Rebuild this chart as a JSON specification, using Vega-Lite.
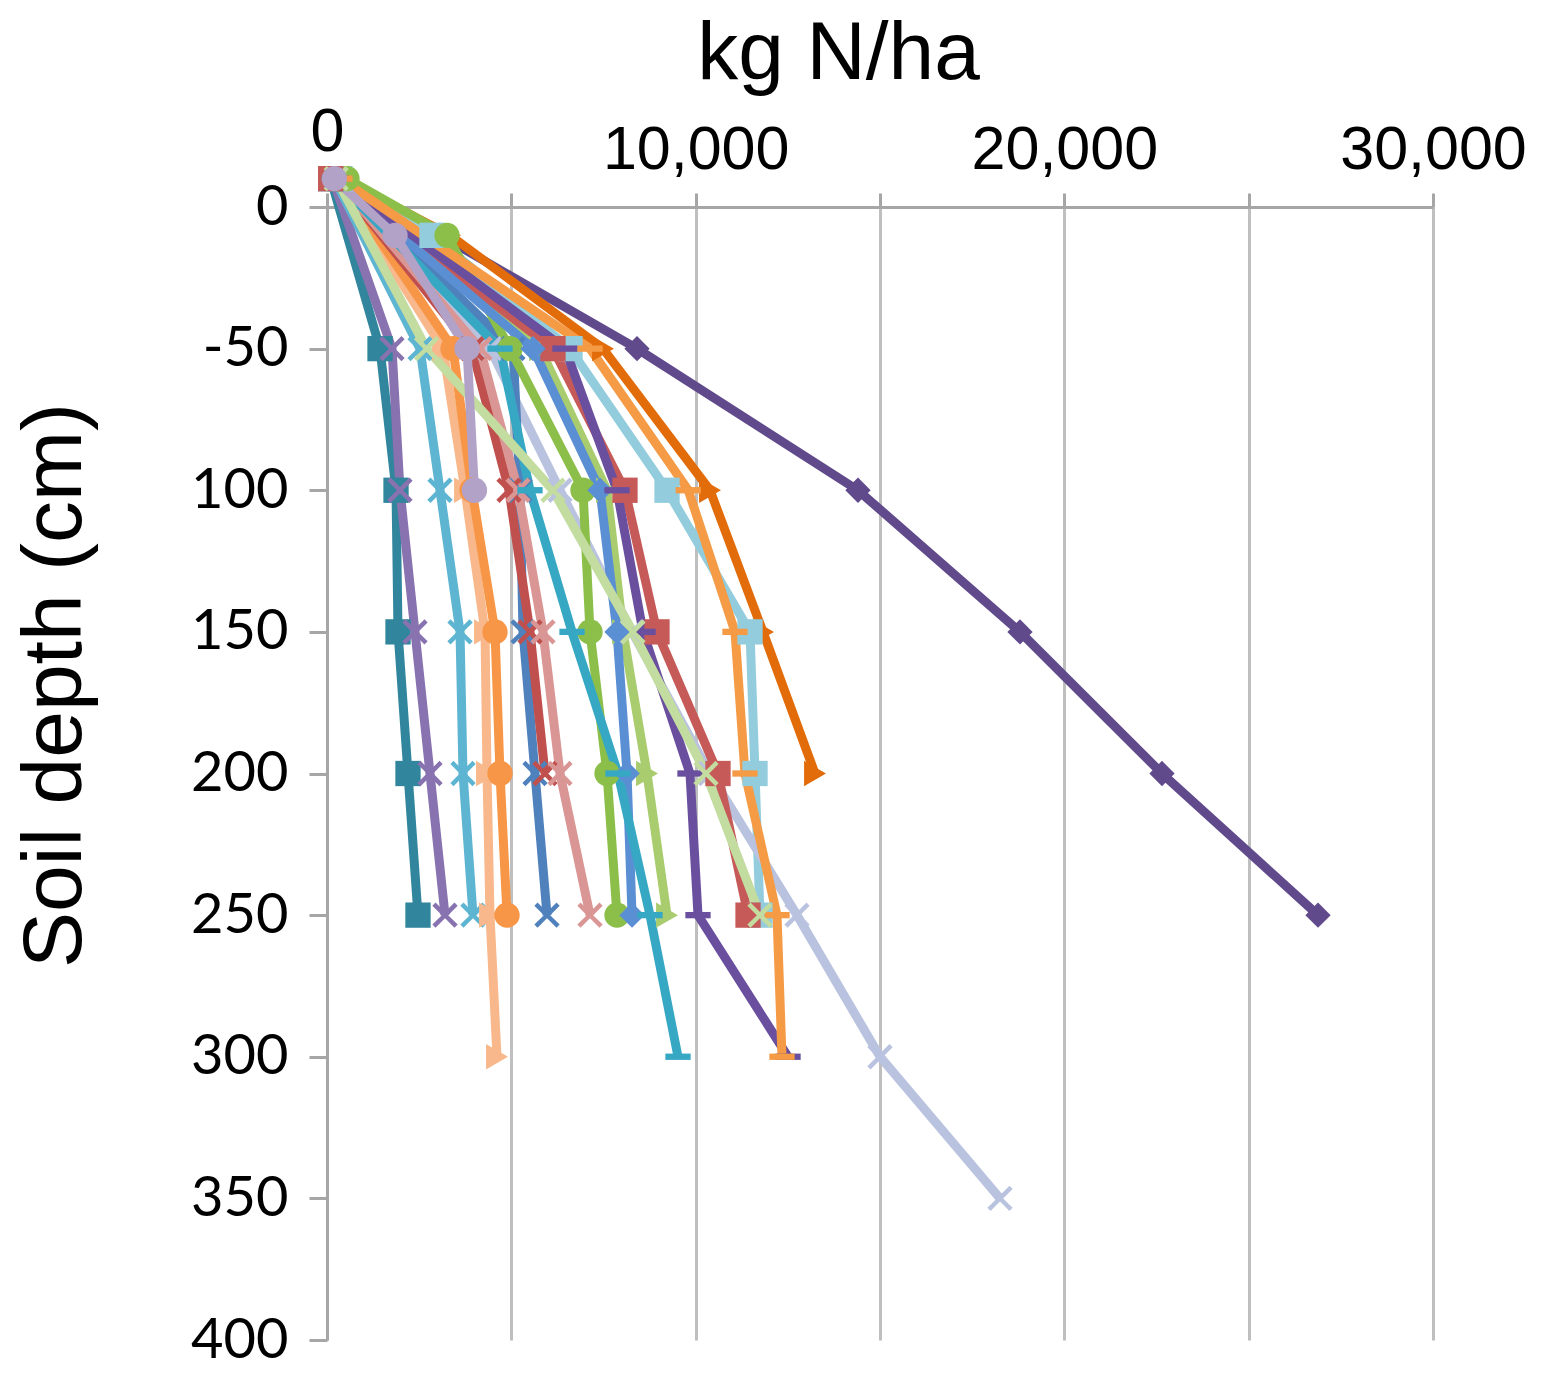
{
  "$schema": "https://vega.github.io/schema/vega-lite/v6.json",
  "autosize": {"type": "none"},
  "padding": {"left": 327, "top": 207, "right": 123, "bottom": 35},
  "width": 1106,
  "height": 1133,
  "background": "white",
  "config": {"view": {"stroke": null}},
  "data": {"values": [
    {"series": "P01", "depth": -10, "kgN": 300}, {"series": "P01", "depth": 10, "kgN": 3065}, {"series": "P01", "depth": 50, "kgN": 8409}, {"series": "P01", "depth": 100, "kgN": 14403}, {"series": "P01", "depth": 150, "kgN": 18797}, {"series": "P01", "depth": 200, "kgN": 22649}, {"series": "P01", "depth": 250, "kgN": 26881},
    {"series": "P02", "depth": -10, "kgN": 400}, {"series": "P02", "depth": 10, "kgN": 3337}, {"series": "P02", "depth": 50, "kgN": 7487}, {"series": "P02", "depth": 100, "kgN": 10389}, {"series": "P02", "depth": 150, "kgN": 11827}, {"series": "P02", "depth": 200, "kgN": 13237},
    {"series": "P03", "depth": -10, "kgN": 350}, {"series": "P03", "depth": 10, "kgN": 2848}, {"series": "P03", "depth": 50, "kgN": 6591}, {"series": "P03", "depth": 100, "kgN": 9223}, {"series": "P03", "depth": 150, "kgN": 11474}, {"series": "P03", "depth": 200, "kgN": 11610}, {"series": "P03", "depth": 250, "kgN": 11745},
    {"series": "P04", "depth": -10, "kgN": 150}, {"series": "P04", "depth": 50, "kgN": 4421}, {"series": "P04", "depth": 100, "kgN": 6320}, {"series": "P04", "depth": 150, "kgN": 8274}, {"series": "P04", "depth": 200, "kgN": 10389}, {"series": "P04", "depth": 250, "kgN": 12749}, {"series": "P04", "depth": 300, "kgN": 15000}, {"series": "P04", "depth": 350, "kgN": 18255},
    {"series": "P05", "depth": -10, "kgN": 100}, {"series": "P05", "depth": 50, "kgN": 1438}, {"series": "P05", "depth": 100, "kgN": 1872}, {"series": "P05", "depth": 150, "kgN": 1926}, {"series": "P05", "depth": 200, "kgN": 2197}, {"series": "P05", "depth": 250, "kgN": 2468},
    {"series": "P06", "depth": -10, "kgN": 150}, {"series": "P06", "depth": 50, "kgN": 1763}, {"series": "P06", "depth": 100, "kgN": 1980}, {"series": "P06", "depth": 150, "kgN": 2387}, {"series": "P06", "depth": 200, "kgN": 2794}, {"series": "P06", "depth": 250, "kgN": 3201},
    {"series": "P07", "depth": -10, "kgN": 200}, {"series": "P07", "depth": 50, "kgN": 2523}, {"series": "P07", "depth": 100, "kgN": 3065}, {"series": "P07", "depth": 150, "kgN": 3608}, {"series": "P07", "depth": 200, "kgN": 3689}, {"series": "P07", "depth": 250, "kgN": 3960},
    {"series": "P08", "depth": -10, "kgN": 250}, {"series": "P08", "depth": 50, "kgN": 3147}, {"series": "P08", "depth": 100, "kgN": 3743}, {"series": "P08", "depth": 150, "kgN": 4286}, {"series": "P08", "depth": 200, "kgN": 4340}, {"series": "P08", "depth": 250, "kgN": 4421}, {"series": "P08", "depth": 300, "kgN": 4611},
    {"series": "P09", "depth": -10, "kgN": 300}, {"series": "P09", "depth": 50, "kgN": 3418}, {"series": "P09", "depth": 100, "kgN": 3933}, {"series": "P09", "depth": 150, "kgN": 4557}, {"series": "P09", "depth": 200, "kgN": 4693}, {"series": "P09", "depth": 250, "kgN": 4883},
    {"series": "P10", "depth": -10, "kgN": 250}, {"series": "P10", "depth": 50, "kgN": 5045}, {"series": "P10", "depth": 100, "kgN": 5235}, {"series": "P10", "depth": 150, "kgN": 5317}, {"series": "P10", "depth": 200, "kgN": 5642}, {"series": "P10", "depth": 250, "kgN": 5968},
    {"series": "P11", "depth": -10, "kgN": 250}, {"series": "P11", "depth": 50, "kgN": 3933}, {"series": "P11", "depth": 100, "kgN": 4937}, {"series": "P11", "depth": 150, "kgN": 5506}, {"series": "P11", "depth": 200, "kgN": 5913},
    {"series": "P12", "depth": -10, "kgN": 250}, {"series": "P12", "depth": 50, "kgN": 4150}, {"series": "P12", "depth": 100, "kgN": 5181}, {"series": "P12", "depth": 150, "kgN": 5859}, {"series": "P12", "depth": 200, "kgN": 6320}, {"series": "P12", "depth": 250, "kgN": 7134},
    {"series": "P13", "depth": -10, "kgN": 543}, {"series": "P13", "depth": 10, "kgN": 3255}, {"series": "P13", "depth": 50, "kgN": 4964}, {"series": "P13", "depth": 100, "kgN": 6944}, {"series": "P13", "depth": 150, "kgN": 7134}, {"series": "P13", "depth": 200, "kgN": 7595}, {"series": "P13", "depth": 250, "kgN": 7866},
    {"series": "P14", "depth": -10, "kgN": 400}, {"series": "P14", "depth": 50, "kgN": 5778}, {"series": "P14", "depth": 100, "kgN": 7595}, {"series": "P14", "depth": 150, "kgN": 8029}, {"series": "P14", "depth": 200, "kgN": 8680}, {"series": "P14", "depth": 250, "kgN": 9223},
    {"series": "P15", "depth": -10, "kgN": 100}, {"series": "P15", "depth": 50, "kgN": 6130}, {"series": "P15", "depth": 100, "kgN": 8083}, {"series": "P15", "depth": 150, "kgN": 8951}, {"series": "P15", "depth": 200, "kgN": 10606}, {"series": "P15", "depth": 250, "kgN": 11420},
    {"series": "P16", "depth": -10, "kgN": 200}, {"series": "P16", "depth": 50, "kgN": 5588}, {"series": "P16", "depth": 100, "kgN": 7405}, {"series": "P16", "depth": 150, "kgN": 7866}, {"series": "P16", "depth": 200, "kgN": 8138}, {"series": "P16", "depth": 250, "kgN": 8274},
    {"series": "P17", "depth": -10, "kgN": 200}, {"series": "P17", "depth": 50, "kgN": 4693}, {"series": "P17", "depth": 100, "kgN": 5506}, {"series": "P17", "depth": 150, "kgN": 6646}, {"series": "P17", "depth": 200, "kgN": 7893}, {"series": "P17", "depth": 250, "kgN": 8761}, {"series": "P17", "depth": 300, "kgN": 9521},
    {"series": "P18", "depth": -10, "kgN": 250}, {"series": "P18", "depth": 50, "kgN": 6456}, {"series": "P18", "depth": 100, "kgN": 7866}, {"series": "P18", "depth": 150, "kgN": 8572}, {"series": "P18", "depth": 200, "kgN": 9846}, {"series": "P18", "depth": 250, "kgN": 10063}, {"series": "P18", "depth": 300, "kgN": 12505},
    {"series": "P19", "depth": -10, "kgN": 350}, {"series": "P19", "depth": 50, "kgN": 7134}, {"series": "P19", "depth": 100, "kgN": 9800}, {"series": "P19", "depth": 150, "kgN": 11067}, {"series": "P19", "depth": 200, "kgN": 11338}, {"series": "P19", "depth": 250, "kgN": 12206}, {"series": "P19", "depth": 300, "kgN": 12342},
    {"series": "P20", "depth": -10, "kgN": 250}, {"series": "P20", "depth": 50, "kgN": 2700}, {"series": "P20", "depth": 100, "kgN": 6130}, {"series": "P20", "depth": 150, "kgN": 8300}, {"series": "P20", "depth": 200, "kgN": 10280}, {"series": "P20", "depth": 250, "kgN": 11745},
    {"series": "P21", "depth": -10, "kgN": 200}, {"series": "P21", "depth": 10, "kgN": 1845}, {"series": "P21", "depth": 50, "kgN": 3798}, {"series": "P21", "depth": 100, "kgN": 4000}
  ]},
  "encoding": {
    "x": {
      "field": "kgN", "type": "quantitative",
      "scale": {"domain": [0, 30000], "nice": false, "zero": false},
      "axis": {
        "orient": "top",
        "values": [0, 5000, 10000, 15000, 20000, 25000, 30000],
        "labelExpr": "datum.value % 10000 == 0 ? format(datum.value, ',') : ''",
        "labelFlush": false,
        "labelOverlap": false,
        "labelLimit": 0,
        "labelFont": "Liberation Sans",
        "labelFontSize": 61,
        "labelColor": "#000000",
        "labelPadding": {"condition": {"test": "datum.value == 0", "value": 30}, "value": 12},
        "grid": true,
        "gridColor": "#BFBFBF",
        "gridWidth": 3,
        "domainColor": "#A6A6A6",
        "domainWidth": 3,
        "tickColor": "#A6A6A6",
        "tickWidth": 3,
        "tickSize": 14,
        "title": "kg N/ha",
        "titleFont": "Liberation Sans",
        "titleFontSize": 82,
        "titleFontWeight": "normal",
        "titleColor": "#000000",
        "titleX": 511,
        "titleY": -129,
        "titleAlign": "center",
        "titleBaseline": "alphabetic"
      }
    },
    "y": {
      "field": "depth", "type": "quantitative",
      "scale": {"domain": [0, 400], "nice": false, "zero": false, "reverse": true},
      "axis": {
        "orient": "left",
        "values": [0, 50, 100, 150, 200, 250, 300, 350, 400],
        "labelExpr": "datum.value == 50 ? '-50' : datum.label",
        "labelFont": "Lato",
        "labelFontSize": 56,
        "labelColor": "#000000",
        "labelPadding": 21,
        "grid": false,
        "domainColor": "#A6A6A6",
        "domainWidth": 3,
        "tickColor": "#A6A6A6",
        "tickWidth": 3,
        "tickSize": 18,
        "title": "Soil depth (cm)",
        "titleFont": "Liberation Sans",
        "titleFontSize": 84,
        "titleFontWeight": "normal",
        "titleColor": "#000000",
        "titleX": -229,
        "titleY": 478,
        "titleAlign": "center"
      }
    },
    "color": {
      "field": "series", "type": "nominal", "legend": null,
      "scale": {
        "domain": ["P01","P02","P03","P04","P05","P06","P07","P08","P09","P10","P11","P12","P13","P14","P15","P16","P17","P18","P19","P20","P21"],
        "range": ["#604A8C","#E36C0A","#93CDDD","#B9C3DF","#31859C","#8872B0","#5DB5D2","#F8B88B","#F79646","#4F81BD","#C0504D","#D99694","#8CBF4A","#A9CC6E","#C65A58","#5B8FD4","#37A8C4","#6A4F9F","#F59A45","#C3DCA0","#B3A2C7"]
      }
    },
    "order": {"field": "depth", "type": "quantitative"}
  },
  "layer": [
    {
      "mark": {"type": "line", "strokeWidth": 9, "clip": false},
      "encoding": {"detail": {"field": "series", "type": "nominal"}}
    },
    {
      "mark": {"type": "point", "filled": true, "opacity": 1, "size": 640, "clip": false},
      "encoding": {
        "shape": {
          "field": "series", "type": "nominal", "legend": null,
          "scale": {
            "domain": ["P01","P02","P03","P04","P05","P06","P07","P08","P09","P10","P11","P12","P13","P14","P15","P16","P17","P18","P19","P20","P21"],
            "range": ["diamond","triangle-right","square","M-1,-0.75L-0.75,-1L0,-0.25L0.75,-1L1,-0.75L0.25,0L1,0.75L0.75,1L0,0.25L-0.75,1L-1,0.75L-0.25,0Z","square","M-1,-0.75L-0.75,-1L0,-0.25L0.75,-1L1,-0.75L0.25,0L1,0.75L0.75,1L0,0.25L-0.75,1L-1,0.75L-0.25,0Z","M-1,-0.75L-0.75,-1L0,-0.25L0.75,-1L1,-0.75L0.25,0L1,0.75L0.75,1L0,0.25L-0.75,1L-1,0.75L-0.25,0Z","triangle-right","circle","M-1,-0.75L-0.75,-1L0,-0.25L0.75,-1L1,-0.75L0.25,0L1,0.75L0.75,1L0,0.25L-0.75,1L-1,0.75L-0.25,0Z","M-1,-0.75L-0.75,-1L0,-0.25L0.75,-1L1,-0.75L0.25,0L1,0.75L0.75,1L0,0.25L-0.75,1L-1,0.75L-0.25,0Z","M-1,-0.75L-0.75,-1L0,-0.25L0.75,-1L1,-0.75L0.25,0L1,0.75L0.75,1L0,0.25L-0.75,1L-1,0.75L-0.25,0Z","circle","triangle-right","square","diamond","M-1,-0.25L1,-0.25L1,0.25L-1,0.25Z","M-1,-0.25L1,-0.25L1,0.25L-1,0.25Z","M-1,-0.25L1,-0.25L1,0.25L-1,0.25Z","M-1,-0.75L-0.75,-1L0,-0.25L0.75,-1L1,-0.75L0.25,0L1,0.75L0.75,1L0,0.25L-0.75,1L-1,0.75L-0.25,0Z","circle"]
          }
        }
      }
    }
  ]
}
